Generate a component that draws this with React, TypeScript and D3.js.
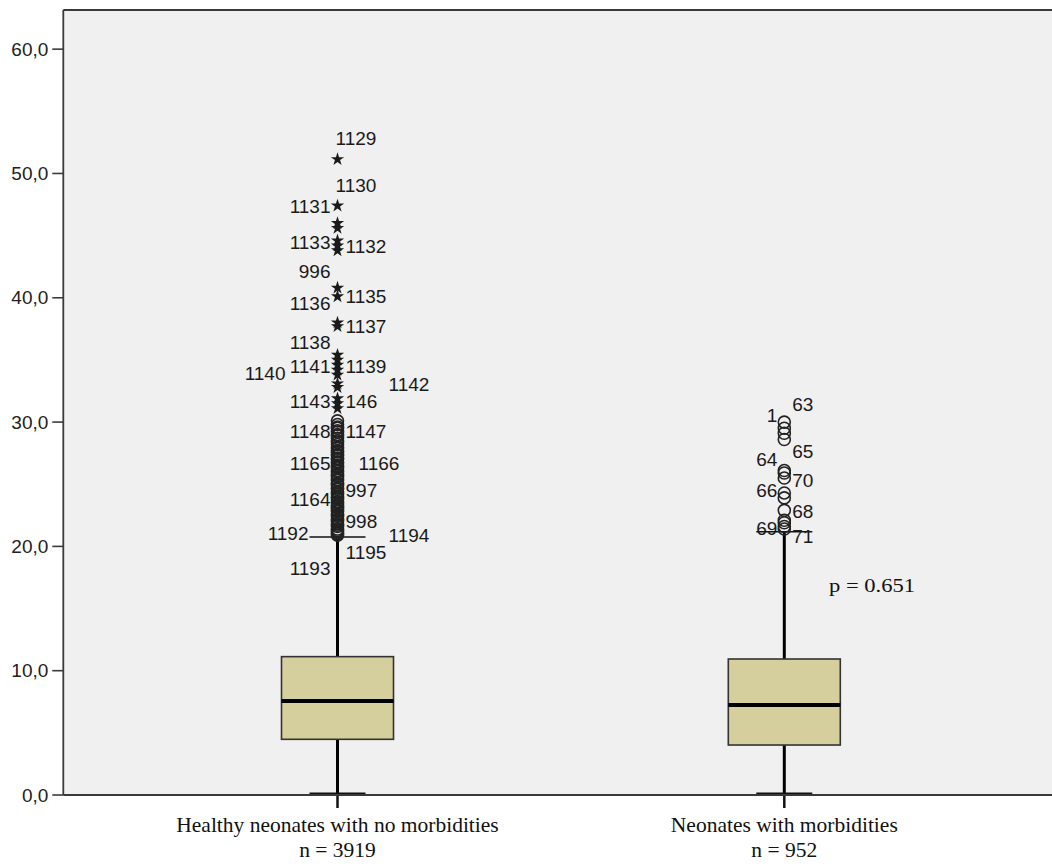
import React, { useEffect } from "react";
import * as d3 from "d3";

const width = 1052;
const height = 866;

// plot frame (left axis x, top border y, baseline y)
const frame = { left: 63.3, top: 10, bottom: 795, right: 1052 };
const yMax = 63.15;

// Data
const categories = ["Healthy neonates with no morbidities", "Neonates with morbidities"];
const sampleSizes = ["n = 3919", "n = 952"];
const q1 = [4.48, 4.02];
const medians = [7.56, 7.24];
const q3 = [11.13, 10.94];
const whiskerLow = [0, 0];
const whiskerHigh = [20.76, 21.18];
const yTicks = [0, 10, 20, 30, 40, 50, 60];
const pValueText = "p = 0.651";

// extremes (stars) and outliers (circles)
const healthyExtremes = [
  51.14, 47.4, 46.0, 45.6, 44.6, 44.2, 43.8, 40.8, 40.1, 38.0, 37.7, 35.4, 35.0,
  34.6, 34.2, 33.8, 33.1, 32.8, 31.9, 31.5, 31.1,
];
const healthyOutliers = [
  30.1, 29.8, 29.6, 29.5, 29.3, 29.2, 29.0, 28.9, 28.7, 28.5, 28.4, 28.2, 28.0,
  27.9, 27.7, 27.6, 27.4, 27.3, 27.1, 27.0, 26.8, 26.7, 26.5, 26.4, 26.3, 26.1,
  26.0, 25.8, 25.7, 25.6, 25.4, 25.3, 25.1, 25.0, 24.9, 24.7, 24.6, 24.4, 24.3,
  24.2, 24.0, 23.9, 23.8, 23.6, 23.5, 23.3, 23.2, 23.1, 22.9, 22.8, 22.6, 22.5,
  22.4, 22.2, 22.1, 22.0, 21.8, 21.7, 21.6, 21.4, 21.3, 21.2, 21.1, 21.0, 20.9,
];
const morbidOutliers = [
  30.0, 29.5, 29.1, 28.6, 26.1, 25.9, 25.5, 24.3, 23.9, 22.9, 22.1, 21.9, 21.6, 21.4,
];

// case labels: [text, value at label centre, lane (<0 left of box centre, >=0 right)]
const healthyLabels: [string, number, number][] = [
  ["1129", 52.86, 0],
  ["1130", 49.02, 0],
  ["1131", 47.39, -1],
  ["1133", 44.43, -1],
  ["1132", 44.17, 1],
  ["996", 42.1, -1],
  ["1135", 40.15, 1],
  ["1136", 39.58, -1],
  ["1137", 37.73, 1],
  ["1138", 36.39, -1],
  ["1141", 34.51, -1],
  ["1139", 34.51, 1],
  ["1140", 33.95, -3],
  ["1142", 33.07, 3],
  ["1143", 31.64, -1],
  ["146", 31.64, 1],
  ["1148", 29.23, -1],
  ["1147", 29.23, 1],
  ["1165", 26.71, -1],
  ["1166", 26.71, 2],
  ["997", 24.54, 1],
  ["1164", 23.81, -1],
  ["998", 21.99, 1],
  ["1192", 21.05, -2],
  ["1194", 20.92, 3],
  ["1195", 19.49, 1],
  ["1193", 18.26, -1],
];
const morbidLabels: [string, number, number][] = [
  ["63", 31.46, 1],
  ["1", 30.57, -1],
  ["65", 27.62, 1],
  ["64", 27.03, -1],
  ["70", 25.34, 1],
  ["66", 24.54, -1],
  ["68", 22.79, 1],
  ["69", 21.46, -1],
  ["71", 20.78, 1],
];

const sans = "'Liberation Sans', Arial, sans-serif";
const serif = "'Liberation Serif', 'Times New Roman', serif";
const boxFill = "#d4cf9c";
const frameColor = "#3a3a3a";

const laneOffset: Record<number, number> = { [-3]: -52, [-2]: -29, [-1]: -7, 0: -2, 1: 8, 2: 21, 3: 51 };

const App = () => {
  useEffect(() => {
    document.body.style.margin = "0";
  }, []);

  const y = d3.scaleLinear().domain([0, yMax]).range([frame.bottom, frame.top]);
  const x = d3.scalePoint<string>().domain(categories).range([337.5, 784.3]);
  const boxHalf = 56;
  const capHalf = 28;

  const star = d3.symbol().type(d3.symbolStar).size(55)();
  const outliers = [healthyOutliers, morbidOutliers];
  const extremes = [healthyExtremes, []];
  const labels = [healthyLabels, morbidLabels];

  return (
    <svg width={width} height={height} style={{ display: "block" }}>
      <rect x={0} y={0} width={width} height={height} fill="#fff" />
      <rect
        x={frame.left}
        y={frame.top}
        width={frame.right - frame.left}
        height={frame.bottom - frame.top}
        fill="#f0f0f0"
      />

      {/* y axis ticks */}
      {yTicks.map((t) => (
        <g key={t} transform={`translate(0,${y(t)})`}>
          <line x1={frame.left - 11} x2={frame.left} stroke={frameColor} strokeWidth={1.6} />
          <text
            x={frame.left - 15}
            dy="0.35em"
            textAnchor="end"
            fontFamily={sans}
            fontSize={19}
            fill="#222"
          >
            {d3.format(".1f")(t).replace(".", ",")}
          </text>
        </g>
      ))}

      {categories.map((c, i) => {
        const cx = x(c) as number;
        return (
          <g key={c}>
            {/* whiskers */}
            <line x1={cx} x2={cx} y1={y(q3[i])} y2={y(whiskerHigh[i])} stroke="#000" strokeWidth={3} />
            <line x1={cx} x2={cx} y1={y(whiskerLow[i])} y2={y(q1[i])} stroke="#000" strokeWidth={3} />
            <line
              x1={cx - capHalf}
              x2={cx + capHalf}
              y1={y(whiskerHigh[i])}
              y2={y(whiskerHigh[i])}
              stroke="#111"
              strokeWidth={1.5}
            />
            <line
              x1={cx - capHalf}
              x2={cx + capHalf}
              y1={y(whiskerLow[i]) - 1}
              y2={y(whiskerLow[i]) - 1}
              stroke="#111"
              strokeWidth={3}
            />
            {/* box */}
            <rect
              x={cx - boxHalf}
              y={y(q3[i])}
              width={boxHalf * 2}
              height={y(q1[i]) - y(q3[i])}
              fill={boxFill}
              stroke="#333"
              strokeWidth={1.6}
            />
            <line
              x1={cx - boxHalf}
              x2={cx + boxHalf}
              y1={y(medians[i])}
              y2={y(medians[i])}
              stroke="#000"
              strokeWidth={4}
            />
            {/* outliers */}
            {outliers[i].map((v, k) => (
              <circle key={k} cx={cx} cy={y(v)} r={6} fill="none" stroke="#222" strokeWidth={1.6} />
            ))}
            {extremes[i].map((v, k) => (
              <path key={k} d={star as string} transform={`translate(${cx},${y(v)})`} fill="#1a1a1a" />
            ))}
            {labels[i].map(([txt, v, lane], k) => (
              <text
                key={k}
                x={cx + laneOffset[lane]}
                y={y(v)}
                dy="0.35em"
                textAnchor={lane < 0 ? "end" : "start"}
                fontFamily={sans}
                fontSize={19}
                fill="#1a1a1a"
              >
                {txt}
              </text>
            ))}
            {/* x tick and category labels */}
            <line x1={cx} x2={cx} y1={frame.bottom} y2={frame.bottom + 13} stroke="#111" strokeWidth={2.5} />
            <text x={cx} y={832} textAnchor="middle" fontFamily={serif} fontSize={21.5} fill="#111">
              {c}
            </text>
            <text x={cx} y={857} textAnchor="middle" fontFamily={serif} fontSize={21.5} fill="#111">
              {sampleSizes[i]}
            </text>
          </g>
        );
      })}

      {/* frame lines */}
      <line x1={frame.left} x2={frame.right} y1={frame.top} y2={frame.top} stroke={frameColor} strokeWidth={1.8} />
      <line x1={frame.left} x2={frame.left} y1={frame.top} y2={frame.bottom} stroke={frameColor} strokeWidth={1.8} />
      <line x1={frame.left} x2={frame.right} y1={frame.bottom} y2={frame.bottom} stroke={frameColor} strokeWidth={2} />

      <text
        x={829}
        y={592}
        fontFamily={serif}
        fontSize={19}
        textLength={86}
        lengthAdjust="spacingAndGlyphs"
        fill="#111"
      >
        {pValueText}
      </text>
    </svg>
  );
};

export default App;
